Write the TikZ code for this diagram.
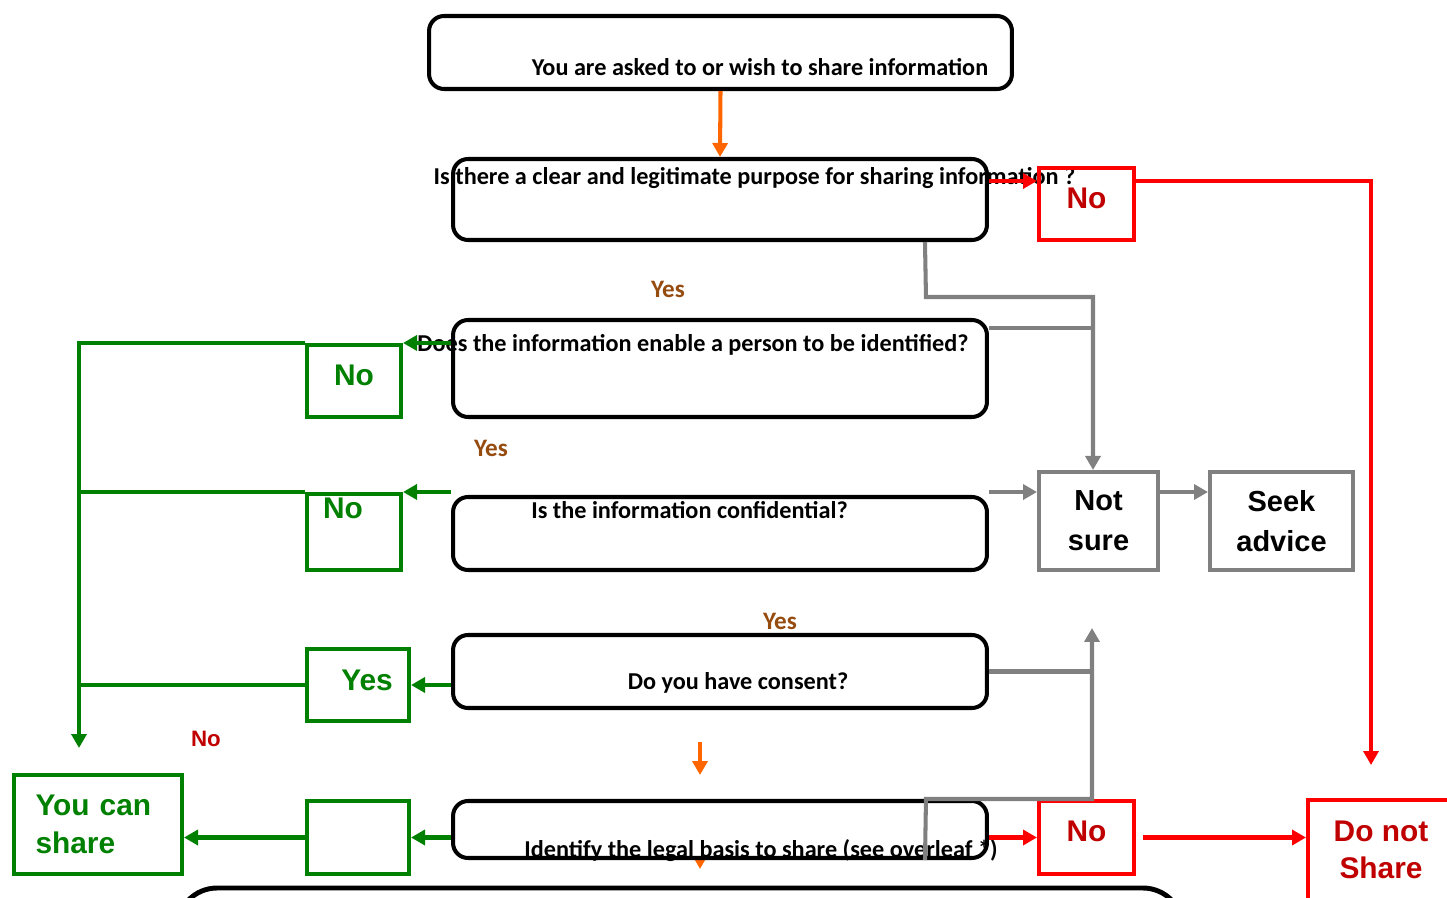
\documentclass[tikz,border=0pt]{standalone}
\usepackage{fontspec}
\setmainfont{Carlito}
\newfontfamily\arialfont{Liberation Sans}
\usetikzlibrary{arrows.meta}

\definecolor{flowgreen}{RGB}{0,128,0}
\definecolor{flowred}{RGB}{255,0,0}
\definecolor{labelred}{RGB}{192,0,0}
\definecolor{flowgray}{RGB}{128,128,128}
\definecolor{floworange}{RGB}{255,102,0}
\definecolor{yesbrown}{RGB}{150,75,15}

\tikzset{
  question/.style={draw=black, line width=2.3pt, rounded corners=0.3cm, fill=white, inner sep=0pt},
  qtext/.style={font=\bfseries\fontsize{13.8}{16}\selectfont, inner sep=0pt},
  yestext/.style={font=\bfseries\fontsize{14.3}{16}\selectfont, text=yesbrown, inner sep=0pt},
  greenbox/.style={draw=flowgreen, line width=2.3pt, text=flowgreen, inner sep=0pt, align=left,
    font=\arialfont\bfseries\fontsize{17}{22}\selectfont},
  redbox/.style={draw=flowred, line width=2.3pt, text=labelred, inner sep=0pt, align=center,
    font=\arialfont\bfseries\fontsize{17}{21}\selectfont},
  graybox/.style={draw=flowgray, line width=2.3pt, inner sep=0pt, align=center,
    font=\arialfont\bfseries\fontsize{16.5}{22.7}\selectfont},
  greenline/.style={draw=flowgreen, line width=2.3pt},
  redline/.style={draw=flowred, line width=2.3pt},
  grayline/.style={draw=flowgray, line width=2.3pt},
  orangeline/.style={draw=floworange, line width=2.3pt},
  tip/.style={-{Triangle[length=0.28cm,width=0.3cm]}}
}

\begin{document}
\begin{tikzpicture}[x=0.02cm, y=-0.02cm]
\useasboundingbox (0,0) rectangle (1447,898);

% Start
\node[question, minimum width=11.66cm, minimum height=1.46cm] (start) at (720.5,52.5) {};
\node[qtext] (starttxt) at (760,67) {You are asked to or wish to share information};

% Purpose
\node[question, minimum width=10.68cm, minimum height=1.62cm] (purpose) at (720,199.5) {};
\node[qtext] (purposetxt) at (754.5,178) {Is there a clear and legitimate purpose for sharing information ?};
\node[yestext] (yesa) at (668,289) {Yes};

% Identified
\node[question, minimum width=10.68cm, minimum height=1.94cm] (ident) at (720,368.5) {};
\node[qtext] (identtxt) at (693,345) {Does the information enable a person to be identified?};
\node[yestext] (yesb) at (491,448) {Yes};

% Confidential
\node[question, minimum width=10.68cm, minimum height=1.46cm] (confid) at (720,533.5) {};
\node[qtext] (confidtxt) at (689.5,510) {Is the information confidential?};
\node[yestext] (yesc) at (780,621) {Yes};

% Consent
\node[question, minimum width=10.68cm, minimum height=1.46cm] (consent) at (720,671.5) {};
\node[qtext] (consenttxt) at (738,683) {Do you have consent?};
\node[font=\arialfont\bfseries\fontsize{12.7}{14}\selectfont, text=labelred, inner sep=0pt] (noconsent) at (206,739) {No};

% Legal basis (orange tip behind the box)
\coordinate (otail) at (700,840);
\coordinate (ohead) at (700,869);
\draw[orangeline, tip] (otail) -- (ohead);
\node[question, minimum width=10.68cm, minimum height=1.14cm] (legal) at (720,829.5) {};
\node[qtext] (legaltxt) at (761,851) {Identify the legal basis to share (see overleaf *)};

% Bottom box
\node[question, line width=2.8pt, rounded corners=0.8cm, minimum width=20.12cm, minimum height=1.92cm] (bottom) at (680,936) {};

% Green answers
\node[greenbox, minimum width=1.88cm, minimum height=1.44cm] (gnoa) at (354,381) {};
\node[greenbox, draw=none] (gnoatxt) at (354,375) {No};
\node[greenbox, minimum width=1.88cm, minimum height=1.52cm] (gnob) at (354,532) {};
\node[greenbox, draw=none] (gnobtxt) at (343,508) {No};
\node[greenbox, minimum width=2.04cm, minimum height=1.44cm] (gyes) at (358,685) {};
\node[greenbox, draw=none] (gyestxt) at (367,680) {Yes};
\node[greenbox, minimum width=2.04cm, minimum height=1.46cm] (gempty) at (358,837.5) {};
\node[greenbox, minimum width=3.36cm, minimum height=1.98cm, text width=2.5cm] (canshare) at (98,824.5) {You can\\share};
\coordinate (gdown) at (79,748);

% Red answers
\node[redbox, minimum width=1.90cm, minimum height=1.44cm] (rnoa) at (1086.5,204) {};
\node[redbox, draw=none] (rnoatxt) at (1086.5,198) {No};
\node[redbox, minimum width=1.90cm, minimum height=1.46cm] (rnob) at (1086.5,837.5) {};
\node[redbox, draw=none] (rnobtxt) at (1086.5,831) {No};
\node[redbox, minimum width=3.0cm, minimum height=2.16cm] (noshare) at (1383,854) {};
\node[redbox, draw=none] (nosharetxt) at (1381,850) {Do not\\Share};
\coordinate (rdown) at (1371,765);

% Not sure / advice
\node[graybox, minimum width=2.38cm, minimum height=1.96cm] (notsure) at (1098.5,521) {Not\\sure};
\node[graybox, minimum width=2.86cm, minimum height=1.96cm] (advice) at (1281.5,521) {Seek\\advice};
\coordinate (gup) at (1092,628);

% Orange arrows
\draw[orangeline, tip] (start.south) -- (purpose.north);
\coordinate (oa) at (700,742);
\coordinate (ob) at (700,775);
\draw[orangeline, tip] (oa) -- (ob);

% Red arrows
\coordinate (ra) at ([yshift=0.37cm]purpose.east);
\draw[redline, tip] (ra) -- (ra -| rnoa.west);
\draw[redline, tip] (ra -| rnoa.east) -| (rdown);
\draw[redline, tip] (legal.east |- rnob.west) -- (rnob.west);
\draw[redline, tip] ([xshift=0.14cm]rnob.east) -- (noshare.west |- rnob.east);

% Green arrows
\draw[greenline, tip] (ident.west |- gnoa.north) -- (gnoa.north east);
\draw[greenline, tip] (gnoa.north west) -| (gdown);
\draw[greenline, tip] (confid.west |- gnob.north) -- (gnob.north east);
\draw[greenline] (gnob.north west) -- (gnob.north west -| gdown);
\draw[greenline, tip] (consent.west |- gyes.east) -- (gyes.east);
\draw[greenline] (gyes.west) -- (gyes.west -| gdown);
\draw[greenline, tip] (legal.west |- gempty.east) -- (gempty.east);
\draw[greenline, tip] (gempty.west) -- (canshare.east |- gempty.west);

% Gray arrows
\coordinate (ga) at ([xshift=-1.28cm]purpose.south east);
\draw[grayline, tip] (ga) -- ++(1,55) -| ([xshift=-0.11cm]notsure.north);
\coordinate (gb) at ([yshift=0.81cm]ident.east);
\draw[grayline] (gb) -- (gb -| gup);
\coordinate (gc) at ([yshift=0.83cm]confid.east);
\draw[grayline, tip] (gc) -- (gc -| notsure.west);
\draw[grayline, tip] (gc -| notsure.east) -- (gc -| advice.west);
\draw[grayline] (consent.east) -- (consent.east -| gup);
\coordinate (gd) at ([xshift=-1.28cm]legal.south east);
\draw[grayline, tip] (gd) -- ++(1,-61) -| (gup);
\end{tikzpicture}
\end{document}
